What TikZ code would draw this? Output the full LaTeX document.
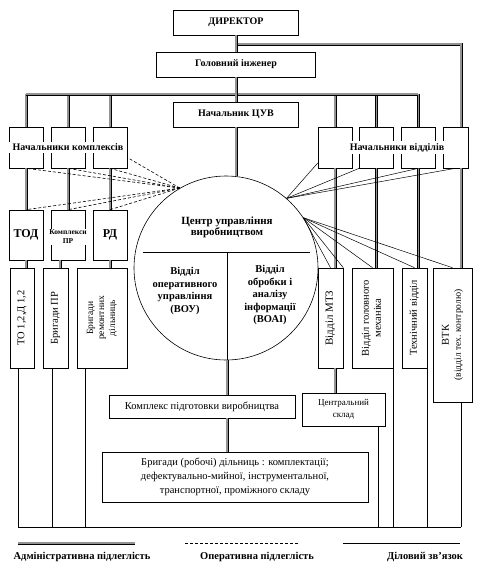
\documentclass[tikz,border=0pt]{standalone}
\usepackage{fontspec}
\setmainfont{Liberation Serif}
\usepackage{graphicx}
\newcommand{\vtext}[1]{\rotatebox{90}{\begin{tabular}{@{}c@{}}#1\end{tabular}}}

\begin{document}
\begin{tikzpicture}[x=1pt,y=-1pt,
  box/.style={draw, line width=0.6pt, inner sep=1pt, align=center},
  adm/.style={draw=black, line width=0.9pt, double=gray!85, double distance=1.2pt},
  oper/.style={draw, line width=0.6pt, dash pattern=on 3pt off 2pt},
  biz/.style={draw, line width=0.5pt},
  hd/.style={font=\fontsize{10}{11}\selectfont\bfseries, align=center},
  tx/.style={font=\fontsize{10.5}{12}\selectfont, align=center}]
\fill[white] (0,0) rectangle (489,573);
\useasboundingbox (0,0) rectangle (489,573);

% Top of the hierarchy
\node[box, hd, minimum width=125, minimum height=25] (dir) at (236,22.5) {ДИРЕКТОР};
\node[box, hd, minimum width=159, minimum height=25] (gi) at (236,64.5) {Головний інженер};
\node[box, hd, minimum width=125, minimum height=25] (cuv) at (236,114.5) {Начальник ЦУВ};

% Heads of complexes / departments
\foreach \n/\x in {k1/26,k2/68,k3/110}
  \node[box, minimum width=34, minimum height=41] (\n) at (\x,147.5) {};
\node[hd, fill=white, inner xsep=4pt, inner ysep=2pt] (nk) at (68,147.5) {Начальники комплексів};
\foreach \n/\x in {v1/335,v2/376.5,v3/418.5}
  \node[box, minimum width=34, minimum height=41] (\n) at (\x,147.5) {};
\node[box, minimum width=25, minimum height=41] (v4) at (455.5,147.5) {};
\node[hd, fill=white, inner xsep=3pt, inner ysep=2pt] (nv) at (397,147.5) {Начальники відділів};

% Second row, left
\node[box, minimum width=34, minimum height=50, font=\fontsize{12}{12}\selectfont\bfseries] (t1) at (26,235) {ТОД};
\node[box, minimum width=34, minimum height=50] (t2) at (68,235) {};
\node[box, minimum width=34, minimum height=50, font=\fontsize{12}{12}\selectfont\bfseries] (t3) at (110,235) {РД};
\node[fill=white, inner sep=1pt, align=center, font=\fontsize{7.5}{9}\selectfont\bfseries] (lt2) at (68,237) {Комплекси\\ПР};

% Brigades, left
\node[box, tx, minimum width=24, minimum height=100] (b1) at (22,318) {\vtext{ТО 1,2,Д 1,2}};
\node[box, tx, minimum width=25, minimum height=100] (b2) at (55.5,318) {\vtext{Бригади ПР}};
\node[box, tx, minimum width=50, minimum height=100, font=\fontsize{9.5}{11}\selectfont] (b3) at (102,318) {\vtext{Бригади\\ремонтних\\дільниць}};

% Control centre
\node[draw, circle, line width=0.6pt, minimum size=184, inner sep=0pt] (cuvc) at (226,268) {};
\node[hd, font=\fontsize{11}{11}\selectfont\bfseries] (ct) at (227,227) {Центр управління\\виробництвом};
\coordinate (sl) at (143,252);
\coordinate (sr) at (310,252);
\coordinate (sm) at (227,252);
\draw[biz] (sl) -- (sr);
\draw[biz] (sm) -- (sm |- cuvc.south);
\node[hd, font=\fontsize{10.5}{12.5}\selectfont\bfseries] (vou) at (185,291) {Відділ\\оперативного\\управління\\(ВОУ)};
\node[hd, font=\fontsize{10.5}{12.5}\selectfont\bfseries] (voai) at (270,295) {Відділ\\обробки і\\аналізу\\інформації\\(ВОАІ)};

% Production preparation
\node[box, tx, minimum width=186, minimum height=23] (kpv) at (202,406.5) {Комплекс підготовки виробництва};
\node[box, tx, minimum width=266, minimum height=50, font=\fontsize{10.5}{14}\selectfont] (brig) at (235,477) {Бригади (робочі) дільниць : комплектації;\\дефектувально-мийної, інструментальної,\\транспортної, проміжного складу};
\node[box, tx, minimum width=83, minimum height=33, font=\fontsize{9}{12}\selectfont] (skl) at (343.5,409.5) {Центральний\\склад};

% Departments, right
\node[box, tx, minimum width=25, minimum height=100, font=\fontsize{11}{12}\selectfont] (m1) at (330.5,318) {\vtext{Відділ МТЗ}};
\node[box, tx, minimum width=41, minimum height=100] (m2) at (372.5,318) {\vtext{Відділ головного\\механіка}};
\node[box, tx, minimum width=25, minimum height=100] (m3) at (414.5,318) {\vtext{Технічний відділ}};
\node[box, tx, minimum width=39, minimum height=134] (m4) at (452.5,335) {\vtext{ВТК\\{\fontsize{9.5}{11}\selectfont(відділ тех. контролю)}}};

% Administrative links
\coordinate (ax) at (461,0);
\coordinate (br) at (236,44);
\coordinate (bl) at (26,94);
\coordinate (bk) at (418,94);
\draw[adm] (br) -| (v4.north -| ax);
\foreach \n in {k1,k2,k3,v1,v2,v3}
  \draw[adm] (\n.north) -- (\n.north |- bl);
\draw[adm] (bl) -- (bk);
\draw[adm] (dir) -- (gi);
\draw[adm] (gi) -- (cuv);
\draw[adm] (cuv.south) -- (cuv.south |- cuvc.north);
\foreach \a/\b in {k1/t1,k2/t2,k3/t3}
  \draw[adm] (\a) -- (\b);
\draw[adm] (t1.south) -- (t1.south |- b1.north);
\draw[adm] ([xshift=-8pt]t2.south) -- ([xshift=-8pt]t2.south |- b2.north);
\draw[adm] (t3.south) -- (t3.south |- b3.north);
\draw[adm] (v1.south) -- (v1.south |- m1.north);
\draw[adm] (v2.south) -- (v2.south |- m2.north);
\draw[adm] (v3.south) -- (v3.south |- m3.north);
\draw[adm] (v4.south -| ax) -- (m4.north -| ax);
\draw[adm] (v1.south |- m1.south) -- (v1.south |- skl.north);
\draw[adm] (sm |- cuvc.south) -- (sm |- kpv.north);
\draw[adm] (sm |- kpv.south) -- (sm |- brig.north);

% Operative links
\coordinate (op) at (cuvc.120);
\foreach \a in {k1.south,k2.south,k3.south,k3.-30,t1.north,t2.north,t3.north}
  \draw[oper] (op) -- (\a);

% Business links
\coordinate (fu) at (cuvc.49);
\coordinate (fl) at (cuvc.33);
\foreach \a in {v1.222,v2.south west,v3.south,v4.south}
  \draw[biz] (fu) -- (\a);
\foreach \a in {m1.north,m1.north east,m2.north,m3.north,m4.north}
  \draw[biz] (fl) -- (\a);

% Lines down to the bottom rail
\coordinate (bot) at (18,527);
\draw[biz] ([xshift=-4pt]b1.south) -- ([xshift=-4pt]b1.south |- bot);
\draw[biz] ([xshift=-3.5pt]b2.south) -- ([xshift=-3.5pt]b2.south |- bot);
\draw[biz] ([xshift=-17pt]b3.south) -- ([xshift=-17pt]b3.south |- bot);
\draw[biz] ([xshift=-7pt]skl.south east) -- ([xshift=-7pt]skl.south east |- bot);
\draw[biz] (m2.south east) -- (m2.south east |- bot);
\draw[biz] (m3.south east) -- (m3.south east |- bot);
\draw[biz] (m4.south -| ax) -- (bot -| ax);
\draw[biz] (bot) -- (bot -| ax);

% Legend
\coordinate (la) at (18,543);
\coordinate (lb) at (135,543);
\coordinate (lc) at (185,543);
\coordinate (ld) at (298,543);
\coordinate (le) at (343,543);
\coordinate (lf) at (460,543);
\draw[adm] (la) -- (lb);
\draw[oper] (lc) -- (ld);
\draw[biz] (le) -- (lf);
\node[hd, font=\fontsize{10.5}{11}\selectfont\bfseries] (lg1) at (82,557) {Адміністративна підлеглість};
\node[hd, font=\fontsize{10.5}{11}\selectfont\bfseries] (lg2) at (257,557) {Оперативна підлеглість};
\node[hd, font=\fontsize{10.5}{11}\selectfont\bfseries] (lg3) at (425,557) {Діловий зв’язок};
\end{tikzpicture}
\end{document}
